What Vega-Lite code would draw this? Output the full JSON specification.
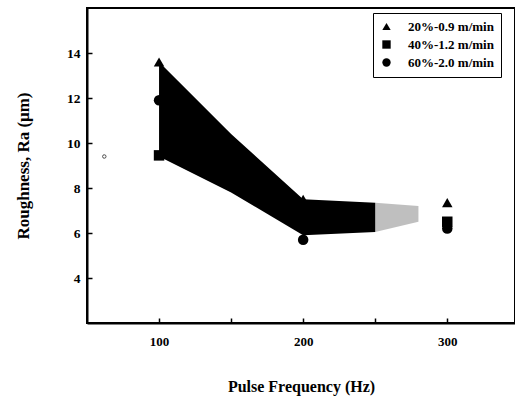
{
  "$schema": "https://vega.github.io/schema/vega-lite/v6.json",
  "width": 428,
  "height": 315,
  "autosize": {"type": "none"},
  "padding": {"left": 87, "top": 8, "right": 0, "bottom": 80},
  "background": "white",
  "config": {
    "font": "Liberation Serif",
    "view": {"stroke": "black", "strokeWidth": 2},
    "axis": {
      "domainColor": "black", "domainWidth": 2,
      "tickColor": "black", "tickWidth": 1.5,
      "labelFont": "Liberation Serif", "labelFontWeight": "bold", "labelColor": "black",
      "titleFont": "Liberation Serif", "titleFontWeight": "bold", "titleColor": "black",
      "grid": false, "labelOverlap": false
    }
  },
  "datasets": {
    "band": [
      {"f": 100, "upper": 13.6, "lower": 9.4},
      {"f": 150, "upper": 10.4, "lower": 7.8},
      {"f": 200, "upper": 7.5, "lower": 5.9},
      {"f": 250, "upper": 7.35, "lower": 6.05}
    ],
    "speckle": [
      {"f": 250, "upper": 7.35, "lower": 6.05},
      {"f": 280, "upper": 7.2, "lower": 6.5}
    ],
    "points": [
      {"f": 100, "ra": 13.6, "series": "20%-0.9 m/min"},
      {"f": 200, "ra": 7.5, "series": "20%-0.9 m/min"},
      {"f": 300, "ra": 7.35, "series": "20%-0.9 m/min"},
      {"f": 100, "ra": 9.45, "series": "40%-1.2 m/min"},
      {"f": 200, "ra": 6.9, "series": "40%-1.2 m/min"},
      {"f": 300, "ra": 6.5, "series": "40%-1.2 m/min"},
      {"f": 100, "ra": 11.9, "series": "60%-2.0 m/min"},
      {"f": 200, "ra": 5.7, "series": "60%-2.0 m/min"},
      {"f": 300, "ra": 6.2, "series": "60%-2.0 m/min"}
    ],
    "stray": [
      {"f": 62, "ra": 9.4}
    ]
  },
  "layer": [
    {
      "data": {"name": "band"},
      "mark": {"type": "area", "color": "black"},
      "encoding": {
        "x": {
          "field": "f", "type": "quantitative",
          "scale": {"domain": [50, 347], "nice": false},
          "axis": {
            "values": [100, 150, 200, 250, 300],
            "labelExpr": "datum.value % 100 == 0 ? datum.label : ''",
            "tickSize": -5, "labelFontSize": 13, "labelPadding": 17,
            "title": "Pulse Frequency (Hz)", "titleFontSize": 16, "titlePadding": 30
          }
        },
        "y": {
          "field": "upper", "type": "quantitative",
          "scale": {"domain": [2, 16], "nice": false},
          "axis": {
            "values": [4, 6, 8, 10, 12, 14],
            "tickSize": -5, "labelFontSize": 13.5, "labelPadding": 12, "labelOverlap": false,
            "title": "Roughness, Ra (μm)", "titleFontSize": 17, "titlePadding": 34
          }
        },
        "y2": {"field": "lower"}
      }
    },
    {
      "data": {"name": "speckle"},
      "mark": {"type": "area", "color": "black", "opacity": 0.25},
      "encoding": {
        "x": {"field": "f", "type": "quantitative"},
        "y": {"field": "upper", "type": "quantitative"},
        "y2": {"field": "lower"}
      }
    },
    {
      "data": {"name": "points"},
      "mark": {"type": "point", "filled": true, "color": "black", "size": 110, "opacity": 1},
      "encoding": {
        "x": {"field": "f", "type": "quantitative"},
        "y": {"field": "ra", "type": "quantitative"},
        "shape": {
          "field": "series", "type": "nominal",
          "scale": {"domain": ["20%-0.9 m/min", "40%-1.2 m/min", "60%-2.0 m/min"], "range": ["triangle-up", "square", "circle"]},
          "legend": {
            "title": null, "orient": "none", "legendX": 286, "legendY": 5,
            "strokeColor": "black", "fillColor": "white", "padding": 7,
            "labelFont": "Liberation Serif", "labelFontWeight": "bold", "labelFontSize": 13, "labelColor": "black",
            "symbolFillColor": "black", "symbolStrokeColor": "black", "symbolSize": 70,
            "rowPadding": 3, "labelOffset": 15
          }
        }
      }
    },
    {
      "data": {"name": "stray"},
      "mark": {"type": "point", "filled": false, "color": "black", "size": 12, "strokeWidth": 1},
      "encoding": {
        "x": {"field": "f", "type": "quantitative"},
        "y": {"field": "ra", "type": "quantitative"}
      }
    }
  ]
}
